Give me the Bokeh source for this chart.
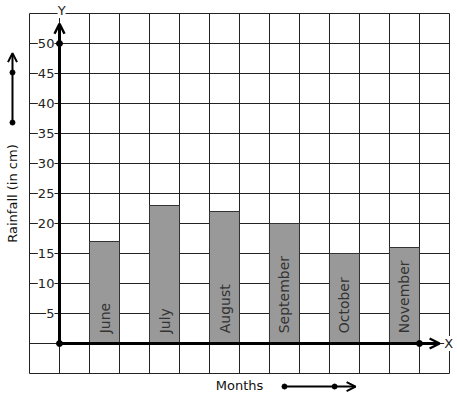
from bokeh.plotting import figure
from bokeh.models import Arrow, OpenHead, ColumnDataSource
from bokeh.core.properties import value
from bokeh.embed import file_html
from bokeh.resources import INLINE
import math

# ---- data ----
months = ["June", "July", "August", "September", "October", "November"]
rainfall = [17, 23, 22, 20, 15, 16]
y_ticks = [5, 10, 15, 20, 25, 30, 35, 40, 45, 50]
y_tick_labels = ["5", "10", "15", "20", "25", "30", "35", "40", "45", "50"]
grid_x = list(range(-1, 14))          # vertical grid lines (one cell each)
grid_y = list(range(-5, 56, 5))       # horizontal grid lines

FONT = value("DejaVu Sans")

p = figure(width=457, height=399, x_range=(-1.9667, 13.2667), y_range=(-9.3333, 57.1667),
           x_axis_type=None, y_axis_type=None, toolbar_location=None,
           output_backend="svg", min_border=0)
p.outline_line_color = None
p.background_fill_color = "white"
p.border_fill_color = "white"

# grid
p.segment(x0=grid_x, x1=grid_x, y0=[grid_y[0]] * len(grid_x), y1=[grid_y[-1]] * len(grid_x),
          line_color="#222222", line_width=1)
p.segment(x0=[grid_x[0]] * len(grid_y), x1=[grid_x[-1]] * len(grid_y), y0=grid_y, y1=grid_y,
          line_color="#222222", line_width=1)

# bars
bar_x = [2 * i + 1.5 for i in range(len(months))]
src = ColumnDataSource(dict(x=bar_x, top=rainfall, month=months))
p.vbar(x="x", top="top", bottom=0, width=1, source=src,
       fill_color="#999999", line_color="#333333", line_width=1)
p.text(x="x", y=1.7, text="month", source=src, angle=math.pi / 2,
       text_align="left", text_baseline="middle", text_font=FONT,
       text_font_size="14px", text_color="#333333")

# axes lines with arrows
p.add_layout(Arrow(end=OpenHead(size=10, line_width=2.5, line_color="black"),
                   x_start=0, y_start=0, x_end=0, y_end=53.3,
                   line_width=3, line_color="black"))
p.add_layout(Arrow(end=OpenHead(size=10, line_width=2.5, line_color="black"),
                   x_start=0, y_start=0, x_end=12.67, y_end=0,
                   line_width=3, line_color="black"))
p.scatter(x=[0, 0, 12], y=[0, 50, 0], size=6, color="black")

# tick labels
p.text(x=[-0.17] * len(y_ticks), y=y_ticks, text=y_tick_labels, text_align="right",
       text_baseline="middle", text_font=FONT, text_font_size="13px",
       text_color="#222222", background_fill_color="white")

# axis letters
p.text(x=[0.07], y=[55.5], text=["Y"], text_align="center", text_baseline="middle",
       text_font=FONT, text_font_size="13px", text_color="#222222",
       background_fill_color="white")
p.text(x=[12.97], y=[0], text=["X"], text_align="center", text_baseline="middle",
       text_font=FONT, text_font_size="13px", text_color="#222222",
       background_fill_color="white")

# titles
p.text(x=[-1.567], y=[25], text=["Rainfall (in cm)"], angle=math.pi / 2,
       text_align="center", text_baseline="middle", text_font=FONT,
       text_font_size="13px", text_color="#111111")
p.text(x=[6.0], y=[-7.0], text=["Months"], text_align="center", text_baseline="middle",
       text_font=FONT, text_font_size="13px", text_color="#111111")

# decorative arrows
p.add_layout(Arrow(end=OpenHead(size=9, line_width=2, line_color="black"),
                   x_start=-1.567, y_start=36.83, x_end=-1.567, y_end=48.4,
                   line_width=2, line_color="black"))
p.scatter(x=[-1.567, -1.567], y=[36.83, 45.17], size=5, color="black")
p.add_layout(Arrow(end=OpenHead(size=9, line_width=2, line_color="black"),
                   x_start=7.5, y_start=-7.17, x_end=9.87, y_end=-7.17,
                   line_width=2, line_color="black"))
p.scatter(x=[7.5, 9.17], y=[-7.17, -7.17], size=5, color="black")

open("out.html", "w").write(file_html(p, INLINE))
